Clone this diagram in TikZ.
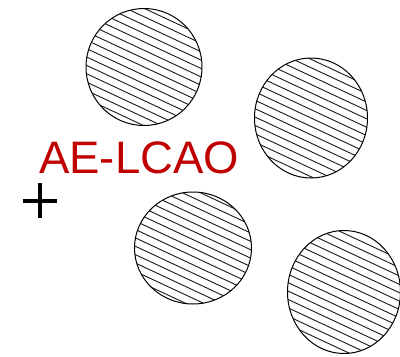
\documentclass[tikz,border=0pt]{standalone}
\usepackage{fontspec}
\setmainfont{Liberation Sans}
\usetikzlibrary{shapes.geometric}
\definecolor{aered}{RGB}{192,0,0}
\tikzset{
  atom/.style={draw=black, line width=1pt, ellipse, inner sep=0pt,
    path picture={
      \foreach \k in {-14,...,14}
        \draw[line width=0.9pt, black!90]
          ([shift={(\k*-3.21-90.6,\k*6.89-42.3)}]path picture bounding box.center)
          -- ++(181.2,84.6);
    }},
  label/.style={text=aered, inner sep=0pt, font=\fontsize{45.5}{54}\selectfont},
  cross/.style={line width=4pt, black}
}
\begin{document}
\begin{tikzpicture}[x=1pt,y=-1pt]
\useasboundingbox (0,0) rectangle (400,357);
\node[atom, minimum width=116pt, minimum height=117pt] (a1) at (144,67) {};
\node[atom, minimum width=113pt, minimum height=120pt] (a2) at (311,118) {};
\node[atom, minimum width=117pt, minimum height=112pt] (a3) at (193,248) {};
\node[atom, minimum width=113pt, minimum height=123pt] (a4) at (344,292) {};
\node[label, anchor=base west] (t) at (39,173) {AE-LCAO};
\coordinate (c) at (40,200.5);
\draw[cross] ([xshift=-17pt]c) -- ([xshift=17pt]c);
\draw[cross] ([yshift=17.5pt]c) -- ([yshift=-17.5pt]c);
\end{tikzpicture}
\end{document}
